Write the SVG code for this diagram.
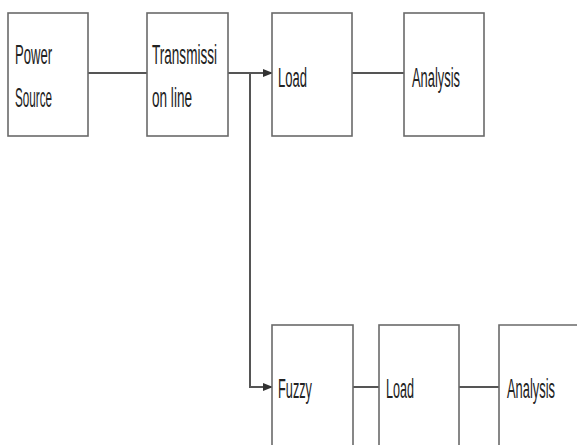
<svg xmlns="http://www.w3.org/2000/svg" width="577" height="445" viewBox="0 0 577 445">
<style>
.box{fill:#fff;stroke:#6a6a6a;stroke-width:1.6}
.t{font-family:"Liberation Sans",Arial,sans-serif;font-size:27px;fill:#222}
.c{fill:none;stroke:#555;stroke-width:2}
</style>
<defs>
<marker id="ah" viewBox="0 0 10 10" refX="9" refY="5" markerWidth="5" markerHeight="5" orient="auto"><path d="M0,1 L10,5 L0,9 z" fill="#333"/></marker>
</defs>
<rect width="577" height="445" fill="#fff"/>
<g id="connectors">
<line class="c" x1="88" y1="73" x2="147" y2="73"/>
<polyline class="c" points="228,73 272,73" marker-end="url(#ah)"/>
<polyline class="c" points="250,73 250,387 272,387" marker-end="url(#ah)"/>
<line class="c" x1="352" y1="73" x2="404" y2="73"/>
<line class="c" x1="353" y1="387" x2="379" y2="387"/>
<line class="c" x1="459" y1="387" x2="499" y2="387"/>
</g>
<g id="power-source">
<rect class="box" x="8" y="13" width="80" height="123"/>
<text class="t" x="15" y="64" textLength="37" lengthAdjust="spacingAndGlyphs">Power</text>
<text class="t" x="15" y="107" textLength="37" lengthAdjust="spacingAndGlyphs">Source</text>
</g>
<g id="transmission-line">
<rect class="box" x="147" y="13" width="81" height="123"/>
<text class="t" x="152" y="64" textLength="65" lengthAdjust="spacingAndGlyphs">Transmissi</text>
<text class="t" x="152" y="107" textLength="40" lengthAdjust="spacingAndGlyphs">on line</text>
</g>
<g id="load-top">
<rect class="box" x="272" y="13" width="80" height="123"/>
<text class="t" x="278" y="87" textLength="29" lengthAdjust="spacingAndGlyphs">Load</text>
</g>
<g id="analysis-top">
<rect class="box" x="404" y="13" width="80" height="123"/>
<text class="t" x="412" y="87" textLength="48" lengthAdjust="spacingAndGlyphs">Analysis</text>
</g>
<g id="fuzzy">
<rect class="box" x="272" y="325" width="81" height="130"/>
<text class="t" x="278" y="398" textLength="34" lengthAdjust="spacingAndGlyphs">Fuzzy</text>
</g>
<g id="load-bottom">
<rect class="box" x="379" y="325" width="80" height="130"/>
<text class="t" x="386" y="398" textLength="28" lengthAdjust="spacingAndGlyphs">Load</text>
</g>
<g id="analysis-bottom">
<path class="box" d="M577,325 H499 V450"/>
<text class="t" x="507" y="398" textLength="48" lengthAdjust="spacingAndGlyphs">Analysis</text>
</g>
</svg>
